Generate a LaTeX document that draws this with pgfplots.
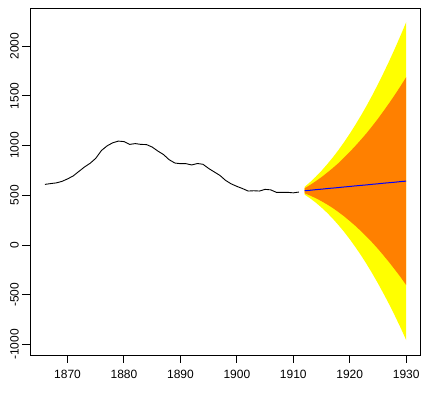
\documentclass[border=0pt]{standalone}
\usepackage{fontspec}
\setmainfont{Liberation Sans}
\usepackage{pgfplots}
\pgfplotsset{compat=1.18}
\definecolor{fanY}{RGB}{255,255,0}
\definecolor{fanO}{RGB}{255,128,0}
\begin{document}
\begin{tikzpicture}
\begin{axis}[
  scale only axis,
  width=390bp, height=346.7bp,
  xmin=1863.4, xmax=1932.5,
  ymin=-1105, ymax=2380,
  axis line style={line width=1bp},
  every tick/.style={black, line width=1bp},
  tick align=outside,
  major tick length=8bp,
  xtick pos=left, ytick pos=left,
  xtick={1870,1880,1890,1900,1910,1920,1930},
  ytick={-1000,-500,0,500,1000,1500,2000},
  ticklabel style={font=\fontsize{12bp}{14bp}\selectfont},
  /pgf/number format/assume math mode=true,
  /pgf/number format/1000 sep={},
  yticklabel style={rotate=90, anchor=south},
  xticklabel style={yshift=-4bp},
  clip=false,
]
\addplot[fill=fanY, draw=none] coordinates {
(1912,585) (1913,634) (1914,688) (1915,747) (1916,812) (1917,881) (1918,955) (1919,1035) (1920,1119) (1921,1209) (1922,1303) (1923,1402) (1924,1507) (1925,1617) (1926,1732) (1927,1851) (1928,1976) (1929,2106) (1930,2241)
(1930,-955) (1929,-830) (1928,-711) (1927,-597) (1926,-489) (1925,-385) (1924,-286) (1923,-192) (1922,-103) (1921,-20) (1920,59) (1919,133) (1918,201) (1917,265) (1916,324) (1915,377) (1914,426) (1913,469) (1912,507)
} -- cycle;
\addplot[fill=fanO, draw=none] coordinates {
(1912,571) (1913,605) (1914,643) (1915,683) (1916,728) (1917,774) (1918,824) (1919,879) (1920,936) (1921,997) (1922,1060) (1923,1126) (1924,1197) (1925,1270) (1926,1348) (1927,1428) (1928,1511) (1929,1598) (1930,1688)
(1930,-402) (1929,-322) (1928,-247) (1927,-174) (1926,-105) (1925,-38) (1924,25) (1923,84) (1922,140) (1921,193) (1920,242) (1919,289) (1918,332) (1917,372) (1916,408) (1915,441) (1914,471) (1913,497) (1912,521)
} -- cycle;
\addplot[blue, line width=1bp] coordinates {
(1912,546) (1913,551) (1914,557) (1915,562) (1916,568) (1917,573) (1918,578) (1919,584) (1920,589) (1921,595) (1922,600) (1923,605) (1924,611) (1925,616) (1926,622) (1927,627) (1928,632) (1929,638) (1930,643)
};
\addplot[black, line width=0.9bp] coordinates {
(1866,610) (1867,618) (1868,625) (1869,640) (1870,665) (1871,695) (1872,740) (1873,785) (1874,822) (1875,872) (1876,950) (1877,997) (1878,1028) (1879,1045) (1880,1040) (1881,1012) (1882,1020) (1883,1012) (1884,1010) (1885,985) (1886,945) (1887,910) (1888,858) (1889,825) (1890,818) (1891,818) (1892,805) (1893,820) (1894,812) (1895,770) (1896,735) (1897,700) (1898,650) (1899,615) (1900,590) (1901,568) (1902,543) (1903,546) (1904,543) (1905,560) (1906,555) (1907,530) (1908,530) (1909,530) (1910,525) (1911,533)
};
\end{axis}
\path (current axis.south west) ++(-30.3bp,-38bp) rectangle ([xshift=6.7bp,yshift=8.3bp]current axis.north east);
\end{tikzpicture}
\end{document}
